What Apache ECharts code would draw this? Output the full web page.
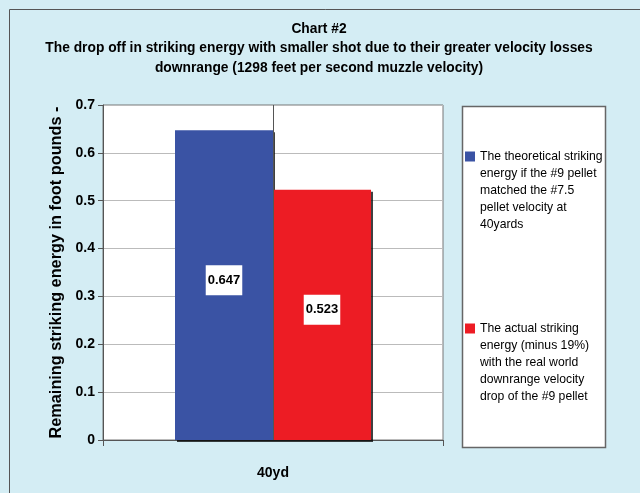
<!DOCTYPE html>
<html>
<head>
<meta charset="utf-8">
<script src="https://cdn.jsdelivr.net/npm/echarts@6/dist/echarts.min.js"></script>
<style>
html,body{margin:0;padding:0;background:#d4edf4;}
#c{width:640px;height:493px;}
</style>
</head>
<body>
<div id="c"></div>
<script>
const categories = ['40yd'];
const seriesNames = [
  'The theoretical striking\nenergy if the #9 pellet\nmatched the #7.5\npellet velocity at\n40yards',
  'The actual striking\nenergy (minus 19%)\nwith the real world\ndownrange velocity\ndrop of the #9 pellet'
];
const theoreticalValues = [0.647];
const actualValues = [0.523];
const yTicks = { min: 0, max: 0.7, interval: 0.1 };

const FONT = '"Liberation Sans", Arial, sans-serif';
const chart = echarts.init(document.getElementById('c'), null, { renderer: 'canvas' });

const labelStyle = {
  show: true,
  position: 'inside',
  offset: [0, -5],
  backgroundColor: '#fff',
  color: '#000',
  fontFamily: FONT,
  fontWeight: 'bold',
  fontSize: 13,
  padding: [9, 2, 8, 2],
  formatter: p => p.value.toFixed(3)
};

chart.setOption({
  backgroundColor: '#d4edf4',
  animation: false,
  graphic: [
    { type: 'rect', shape: { x: 9.5, y: 9.5, width: 700, height: 600 }, style: { fill: 'none', stroke: '#555', lineWidth: 1 }, z: 100 },
    { type: 'rect', shape: { x: 462.5, y: 106.5, width: 143, height: 341 }, style: { fill: '#fff', stroke: '#666', lineWidth: 1.5 }, z: -1 }
  ],
  title: {
    text: 'Chart #2\nThe drop off in striking energy with smaller shot due to their greater velocity losses\ndownrange (1298 feet per second muzzle velocity)',
    left: 319,
    top: 19,
    padding: 0,
    textAlign: 'center',
    textStyle: { fontFamily: FONT, fontWeight: 'bold', fontSize: 13.8, lineHeight: 19.5, color: '#000' }
  },
  legend: {
    orient: 'vertical',
    left: 465,
    top: 80,
    padding: 0,
    itemGap: 19,
    itemWidth: 10,
    itemHeight: 10,
    icon: 'rect',
    selectedMode: false,
    formatter: name => '\n\n\n\n' + name,
    textStyle: { fontFamily: FONT, fontSize: 12.2, lineHeight: 17, color: '#000' },
    data: seriesNames
  },
  grid: { left: 103, top: 105, right: 197, bottom: 53, show: true, backgroundColor: '#fff', borderColor: '#777', borderWidth: 1 },
  xAxis: {
    type: 'category',
    data: categories,
    axisLine: { lineStyle: { color: '#555' } },
    axisTick: { show: true, length: 6, lineStyle: { color: '#555' } },
    axisLabel: { margin: 26, fontFamily: FONT, fontWeight: 'bold', fontSize: 14, color: '#000' }
  },
  yAxis: {
    type: 'value',
    min: yTicks.min,
    max: yTicks.max,
    interval: yTicks.interval,
    name: 'Remaining striking energy in foot pounds -',
    nameLocation: 'middle',
    nameGap: 38,
    nameTextStyle: { fontFamily: FONT, fontWeight: 'bold', fontSize: 16.3, color: '#000' },
    axisLine: { show: true, lineStyle: { color: '#555' } },
    axisTick: { show: true, length: 5, lineStyle: { color: '#555' } },
    splitLine: { lineStyle: { color: '#bbb' } },
    axisLabel: { margin: 8, fontFamily: FONT, fontWeight: 'bold', fontSize: 14, color: '#000', formatter: v => (v === 0 ? '0' : v.toFixed(1)) }
  },
  series: [
    {
      name: 'divider',
      type: 'line',
      data: [],
      silent: true,
      z: 1,
      markLine: {
        silent: true,
        symbol: 'none',
        label: { show: false },
        lineStyle: { color: '#555', type: 'solid', width: 1 },
        data: [{ xAxis: categories[0] }]
      }
    },
    {
      name: seriesNames[0],
      type: 'bar',
      data: theoreticalValues,
      barWidth: 98,
      barGap: '0%',
      itemStyle: { color: '#3a53a4', shadowColor: 'rgba(0,0,0,0.75)', shadowOffsetX: 2, shadowOffsetY: 2, shadowBlur: 0 },
      label: labelStyle,
      z: 2
    },
    {
      name: seriesNames[1],
      type: 'bar',
      data: actualValues,
      barWidth: 98,
      barGap: '0%',
      itemStyle: { color: '#ed1c24', shadowColor: 'rgba(0,0,0,0.75)', shadowOffsetX: 2, shadowOffsetY: 2, shadowBlur: 0 },
      label: labelStyle,
      z: 3
    }
  ]
});
</script>
</body>
</html>
